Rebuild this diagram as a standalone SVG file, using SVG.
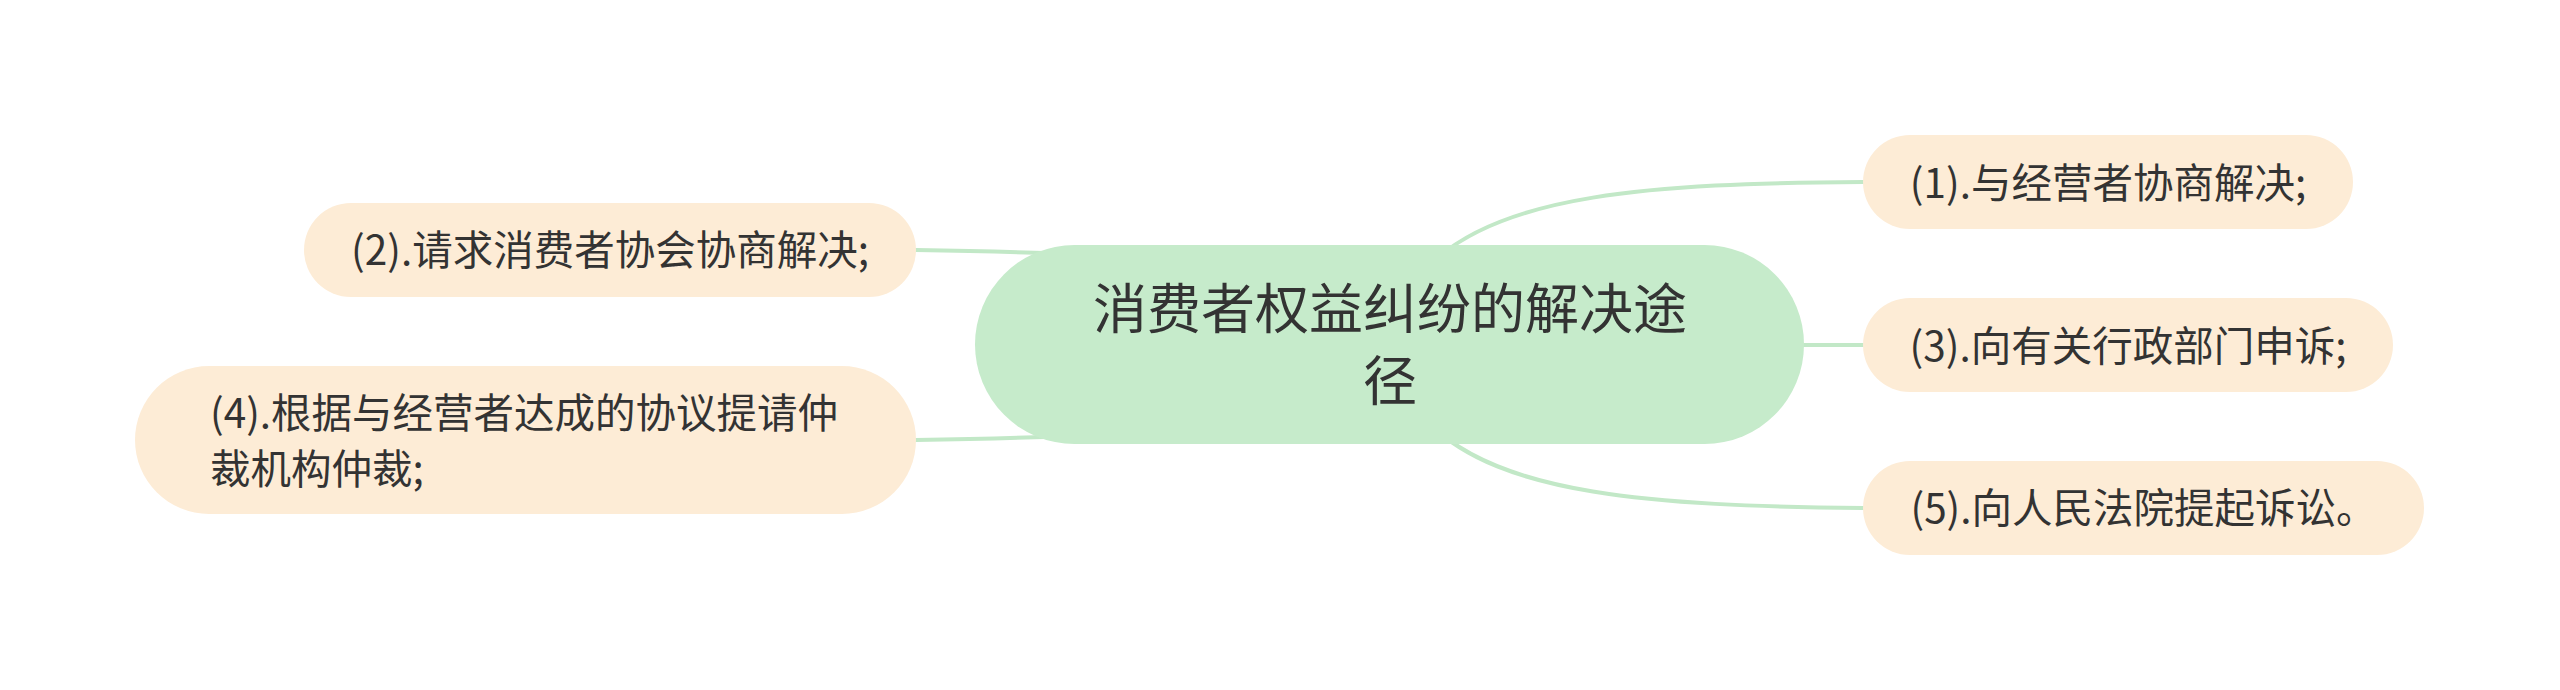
<svg xmlns="http://www.w3.org/2000/svg" width="2560" height="690" viewBox="0 0 2560 690">
<style>
.bg{fill:#ffffff}
.conn{fill:none;stroke:#c2e8c7;stroke-width:4;stroke-linecap:round}
.root{fill:#c6ebcb}
.leaf{fill:#fdecd6}
.t{font-family:"Noto Sans CJK SC","Microsoft YaHei","Liberation Sans",sans-serif;fill:#333333}
.rt{font-size:54px;text-anchor:middle}
.lt{font-size:40.5px}
.mid{text-anchor:middle}
</style>
<rect class="bg" x="0" y="0" width="2560" height="690"/>
<g id="connectors">
<path class="conn" d="M1430,265 C1500,195 1650,183 1863,182"/>
<path class="conn" d="M1780,345 L1863,345"/>
<path class="conn" d="M1430,424 C1500,494 1650,506 1863,508"/>
<path class="conn" d="M916,250 C980,251 1020,252 1070,254"/>
<path class="conn" d="M916,440 C980,439 1020,438 1070,436"/>
</g>
<g id="root">
<rect class="root" x="975" y="245" width="829" height="199" rx="99.5" ry="99.5"/>
<text class="t rt" x="1390" y="329">消费者权益纠纷的解决途</text>
<text class="t rt" x="1390" y="401">径</text>
</g>
<g id="n1">
<rect class="leaf" x="1863" y="135" width="490" height="94" rx="47" ry="47"/>
<text class="t lt mid" x="2108" y="198">(1).与经营者协商解决;</text>
</g>
<g id="n3">
<rect class="leaf" x="1863" y="298" width="530" height="94" rx="47" ry="47"/>
<text class="t lt mid" x="2128" y="361">(3).向有关行政部门申诉;</text>
</g>
<g id="n5">
<rect class="leaf" x="1863" y="461" width="561" height="94" rx="47" ry="47"/>
<text class="t lt mid" x="2143.5" y="523">(5).向人民法院提起诉讼。</text>
</g>
<g id="n2">
<rect class="leaf" x="304" y="203" width="612" height="94" rx="47" ry="47"/>
<text class="t lt mid" x="610" y="265">(2).请求消费者协会协商解决;</text>
</g>
<g id="n4">
<rect class="leaf" x="135" y="366" width="781" height="148" rx="74" ry="74"/>
<text class="t lt" x="210" y="428">(4).根据与经营者达成的协议提请仲</text>
<text class="t lt" x="210" y="484">裁机构仲裁;</text>
</g>
</svg>
